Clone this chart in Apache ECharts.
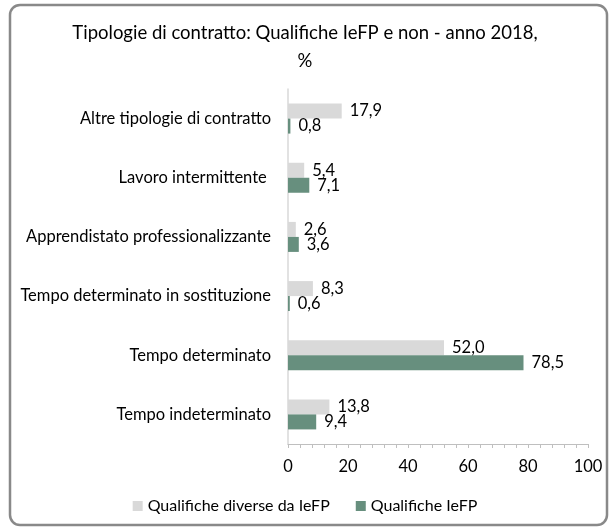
<!DOCTYPE html>
<html>
<head>
<meta charset="utf-8">
<script src="https://cdn.jsdelivr.net/npm/echarts@6/dist/echarts.min.js"></script>
<style>
  html, body { margin: 0; padding: 0; background: #fff; }
  #chart { width: 610px; height: 528px; }
</style>
</head>
<body>
<div id="chart"></div>
<script>
// categories listed top to bottom (y axis is inverted)
const categories = [
  'Altre tipologie di contratto',
  'Lavoro intermittente ',
  'Apprendistato professionalizzante',
  'Tempo determinato in sostituzione',
  'Tempo determinato',
  'Tempo indeterminato'
];
const nonIefp = [17.9, 5.4, 2.6, 8.3, 52.0, 13.8];
const iefp = [0.8, 7.1, 3.6, 0.6, 78.5, 9.4];
const seriesNames = ['Qualifiche diverse da IeFP', 'Qualifiche IeFP'];
const xTicks = { min: 0, max: 100, interval: 20 };

const FONT = 'Lato, "Open Sans", sans-serif';
const fmt = (p) => p.value.toFixed(1).replace('.', ',');

const chart = echarts.init(document.getElementById('chart'), null, { renderer: 'canvas' });

const option = {
  backgroundColor: '#fff',
  animation: false,
  textStyle: { fontFamily: FONT },
  title: {
    text: 'Tipologie di contratto: Qualifiche IeFP e non - anno 2018,\n%',
    left: 'center',
    top: 14,
    textStyle: { color: '#000', fontSize: 18.5, fontWeight: 'normal', lineHeight: 28, fontFamily: FONT }
  },
  legend: {
    data: seriesNames,
    bottom: 9,
    left: 'center',
    icon: 'rect',
    itemWidth: 10,
    itemHeight: 10,
    itemGap: 26,
    textStyle: { color: '#000', fontSize: 16, fontFamily: FONT }
  },
  grid: { left: 288, right: 22, top: 89, bottom: 84 },
  xAxis: {
    type: 'value',
    min: xTicks.min,
    max: xTicks.max,
    interval: xTicks.interval,
    axisLine: { show: true, lineStyle: { color: '#bfbfbf', width: 1 } },
    axisTick: { show: true, length: 4, lineStyle: { color: '#bfbfbf' } },
    minorTick: { show: true, splitNumber: 5, length: 4, lineStyle: { color: '#bfbfbf' } },
    splitLine: { show: false },
    axisLabel: { color: '#000', fontSize: 16.5, margin: 14, fontFamily: FONT }
  },
  yAxis: {
    type: 'category',
    data: categories,
    inverse: true,
    axisLine: { show: true, lineStyle: { color: '#d9d9d9', width: 1.5 } },
    axisTick: { show: false },
    axisLabel: { color: '#000', fontSize: 16.5, margin: 17, fontFamily: FONT }
  },
  series: [
    {
      name: seriesNames[0],
      type: 'bar',
      data: nonIefp,
      barWidth: 15,
      barGap: '0%',
      itemStyle: { color: '#d9d9d9' },
      label: { show: true, position: 'right', distance: 8, formatter: fmt, color: '#000', fontSize: 16.5, fontFamily: FONT }
    },
    {
      name: seriesNames[1],
      type: 'bar',
      data: iefp,
      barWidth: 15,
      barGap: '0%',
      itemStyle: { color: '#678f7e' },
      label: { show: true, position: 'right', distance: 8, formatter: fmt, color: '#000', fontSize: 16.5, fontFamily: FONT }
    }
  ],
  graphic: [
    {
      type: 'rect',
      shape: { x: 10, y: 5, width: 597, height: 520, r: 10 },
      style: { fill: 'none', stroke: '#898989', lineWidth: 2.5 },
      silent: true
    }
  ]
};

chart.setOption(option);
</script>
</body>
</html>
